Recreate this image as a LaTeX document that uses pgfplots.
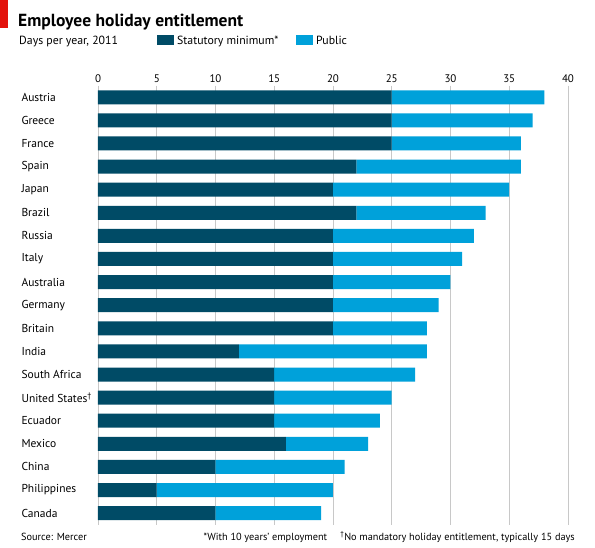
\documentclass[border=0pt]{standalone}
\usepackage{fontspec}
\setmainfont{PT Sans}
\usepackage{pgfplots}
\pgfplotsset{compat=1.18}
\definecolor{statdark}{HTML}{004B66}
\definecolor{publight}{HTML}{00A1DA}
\definecolor{gridgray}{HTML}{C8C8C8}
\definecolor{ecored}{HTML}{E3120B}

\pgfplotstableread{
country stat public
0 25 13
1 25 12
2 25 11
3 22 14
4 20 15
5 22 11
6 20 12
7 20 11
8 20 10
9 20 9
10 20 8
11 12 16
12 15 12
13 15 10
14 15 9
15 16 7
16 10 11
17 5 15
18 10 9
}\holidays

\begin{document}
\begin{tikzpicture}[x=1pt,y=1pt]
  \path[fill=white] (0,0) rectangle (595,547);
  \fill[ecored] (0,519) rectangle (8,547);
  \node[anchor=base west,font=\bfseries\fontsize{17.5}{20}\selectfont,inner sep=0pt] at (18,520) {Employee holiday entitlement};
  \node[anchor=base west,font=\fontsize{11.8}{14}\selectfont,inner sep=0pt] at (19,502) {Days per year, 2011};
  \fill[statdark] (157,502) rectangle (174,512);
  \node[anchor=base west,font=\fontsize{11.8}{14}\selectfont,inner sep=0pt] at (177,502) {Statutory minimum*};
  \fill[publight] (296,502) rectangle (313,512);
  \node[anchor=base west,font=\fontsize{11.8}{14}\selectfont,inner sep=0pt] at (316,502) {Public};
  \node[anchor=base west,font=\fontsize{10.3}{12}\selectfont,inner sep=0pt] at (21,7) {Source: Mercer};
  \node[anchor=base east,font=\fontsize{10.3}{12}\selectfont,inner sep=0pt] at (575,7) {*With 10 years' employment\quad\ \textsuperscript{\dag}No mandatory holiday entitlement, typically 15 days};
  \begin{axis}[
    at={(98pt,22.3pt)}, anchor=south west,
    scale only axis, width=470pt, height=439pt,
    xbar stacked, bar width=14pt,
    xmin=0, xmax=40, ymin=-0.5, ymax=18.5,
    y dir=reverse,
    xtick={0,5,...,40},
    xticklabel pos=right,
    ytick={0,...,18},
    yticklabels={Austria,Greece,France,Spain,Japan,Brazil,Russia,Italy,Australia,Germany,Britain,India,South Africa,United States\textsuperscript{\dag},Ecuador,Mexico,China,Philippines,Canada},
    yticklabel style={anchor=west, xshift=-80pt, font=\fontsize{11.5}{13}\selectfont},
    xticklabel style={font=\fontsize{11}{13}\selectfont},
    /pgf/number format/assume math mode=true,
    major tick length=0pt,
    axis line style={draw=none},
    xmajorgrids, grid style={gridgray, line width=0.8pt},
  ]
    \addplot[draw=none, fill=statdark] table[x=stat, y=country] {\holidays};
    \addplot[draw=none, fill=publight] table[x=public, y=country] {\holidays};
  \end{axis}
\end{tikzpicture}
\end{document}
